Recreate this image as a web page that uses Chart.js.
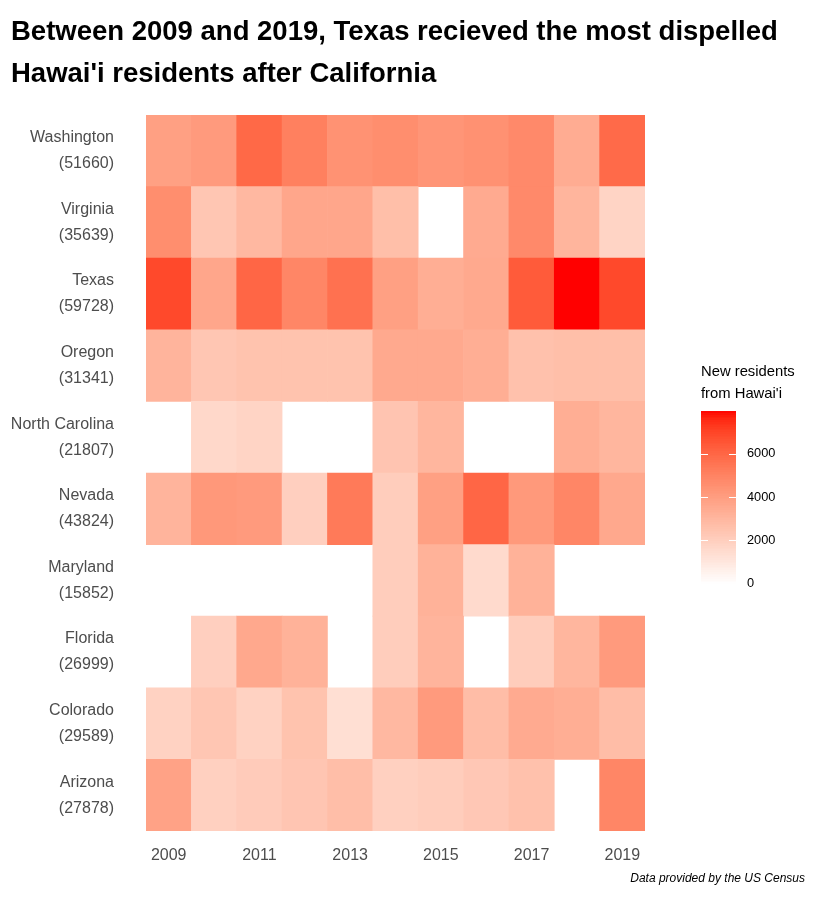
<!DOCTYPE html>
<html>
<head>
<meta charset="utf-8">
<script src="https://cdn.jsdelivr.net/npm/chart.js@4"></script>
<style>
  html, body { margin: 0; padding: 0; background: #ffffff; }
  #wrap { position: relative; width: 816px; height: 897px; }
</style>
</head>
<body>
<div id="wrap"><canvas id="c"></canvas></div>
<script>
// ---------------- DATA ----------------
const years = [2009, 2010, 2011, 2012, 2013, 2014, 2015, 2016, 2017, 2018, 2019];
// bottom to top
const states = ['Arizona', 'Colorado', 'Florida', 'Maryland', 'Nevada',
                'North Carolina', 'Oregon', 'Texas', 'Virginia', 'Washington'];
const totals = [27878, 29589, 26999, 15852, 43824, 21807, 31341, 59728, 35639, 51660];

const arizona       = [3840, 1960, 2160, 2400, 2720, 1960, 2080, 2320, 2600, null, 4910];
const colorado      = [1880, 2360, 1880, 2520, 1360, 2960, 4150, 2760, 3520, 3360, 2760];
const florida       = [null, 2000, 3600, 3200, null, 2080, 3120, null, 2080, 3040, 4150];
const maryland      = [null, null, null, null, null, 2080, 3200, 1560, 3200, null, null];
const nevada        = [3120, 4230, 4150, 2000, 5350, 2080, 3920, 6030, 4200, 4910, 3600];
const northCarolina = [null, 1640, 1800, null, null, 2440, 3040, null, null, 3360, 3040];
const oregon        = [3120, 2360, 2520, 2520, 2520, 3560, 3560, 3360, 2600, 2680, 2680];
const texas         = [6910, 3680, 6030, 4910, 5670, 3920, 3360, 3560, 6390, 7990, 6910];
const virginia      = [4630, 2360, 2960, 3680, 3680, 2680, null, 3520, 4790, 3080, 1800];
const washington    = [3920, 4150, 5950, 5150, 4470, 4630, 4350, 4510, 4790, 3440, 5910];

const stateValues = [arizona, colorado, florida, maryland, nevada,
                     northCarolina, oregon, texas, virginia, washington];

const scaleMin = 0;
const scaleMax = 7990;
const legendTicks = [0, 2000, 4000, 6000];

const titleLines = ["Between 2009 and 2019, Texas recieved the most dispelled",
                    "Hawai'i residents after California"];
const legendTitle = ["New residents", "from Hawai'i"];
const caption = "Data provided by the US Census";

// ---------------- COLOUR (Lab interpolation white -> red) ----------------
function srgbToLin(c) { c /= 255; return c <= 0.04045 ? c / 12.92 : Math.pow((c + 0.055) / 1.055, 2.4); }
function linToSrgb(c) { c = c <= 0.0031308 ? 12.92 * c : 1.055 * Math.pow(c, 1 / 2.4) - 0.055; return Math.round(Math.max(0, Math.min(1, c)) * 255); }
function rgbToLab(r, g, b) {
  const R = srgbToLin(r), G = srgbToLin(g), B = srgbToLin(b);
  let X = (0.4124 * R + 0.3576 * G + 0.1805 * B) / 0.95047;
  let Y = (0.2126 * R + 0.7152 * G + 0.0722 * B);
  let Z = (0.0193 * R + 0.1192 * G + 0.9505 * B) / 1.08883;
  const f = t => t > 0.008856 ? Math.cbrt(t) : 7.787 * t + 16 / 116;
  const fx = f(X), fy = f(Y), fz = f(Z);
  return [116 * fy - 16, 500 * (fx - fy), 200 * (fy - fz)];
}
function labToRgb(L, a, b) {
  const fy = (L + 16) / 116, fx = fy + a / 500, fz = fy - b / 200;
  const inv = t => t * t * t > 0.008856 ? t * t * t : (t - 16 / 116) / 7.787;
  const X = inv(fx) * 0.95047, Y = inv(fy), Z = inv(fz) * 1.08883;
  const R = 3.2406 * X - 1.5372 * Y - 0.4986 * Z;
  const G = -0.9689 * X + 1.8758 * Y + 0.0415 * Z;
  const B = 0.0557 * X - 0.2040 * Y + 1.0570 * Z;
  return [linToSrgb(R), linToSrgb(G), linToSrgb(B)];
}
const labLow = rgbToLab(255, 255, 255);
const labHigh = rgbToLab(255, 0, 0);
function fillColor(v) {
  let t = (v - scaleMin) / (scaleMax - scaleMin);
  t = Math.max(0, Math.min(1, t));
  const L = labLow[0] + (labHigh[0] - labLow[0]) * t;
  const A = labLow[1] + (labHigh[1] - labLow[1]) * t;
  const B = labLow[2] + (labHigh[2] - labLow[2]) * t;
  const c = labToRgb(L, A, B);
  return `rgb(${c[0]},${c[1]},${c[2]})`;
}

// ---------------- CHART ----------------
const FONT = '"Liberation Sans", Arial, Helvetica, sans-serif';
const AXIS_COL = '#4D4D4D';

const datasets = states.map((s, i) => ({
  label: s,
  data: stateValues[i].map(v => v == null ? null : [i - 0.5, i + 0.5]),
  backgroundColor: stateValues[i].map(v => v == null ? 'rgba(0,0,0,0)' : fillColor(v)),
  borderWidth: 0,
  grouped: false,
  barPercentage: 1,
  categoryPercentage: 1
}));

const decorPlugin = {
  id: 'decor',
  afterDraw(chart) {
    const ctx = chart.ctx;
    ctx.save();
    // title
    ctx.fillStyle = '#000000';
    ctx.font = `bold 27.5px ${FONT}`;
    ctx.textAlign = 'left';
    ctx.textBaseline = 'alphabetic';
    ctx.fillText(titleLines[0], 11, 39.5);
    ctx.fillText(titleLines[1], 11, 82);

    // caption
    ctx.font = `italic 12px ${FONT}`;
    ctx.textAlign = 'right';
    ctx.fillText(caption, 805, 882);

    // legend title
    ctx.font = `14.8px ${FONT}`;
    ctx.textAlign = 'left';
    ctx.fillText(legendTitle[0], 701, 376);
    ctx.fillText(legendTitle[1], 701, 398);

    // colour bar
    const bx = 701, bw = 35, btop = 411, bbot = 583.5;
    const steps = 100;
    for (let k = 0; k < steps; k++) {
      const v0 = scaleMin + (scaleMax - scaleMin) * k / steps;
      const y1 = bbot - (bbot - btop) * k / steps;
      const y0 = bbot - (bbot - btop) * (k + 1) / steps;
      ctx.fillStyle = fillColor(v0 + (scaleMax - scaleMin) / steps / 2);
      ctx.fillRect(bx, Math.floor(y0), bw, Math.ceil(y1) - Math.floor(y0));
    }
    ctx.strokeStyle = '#ffffff';
    ctx.lineWidth = 1;
    ctx.fillStyle = '#000000';
    ctx.font = `12.8px ${FONT}`;
    ctx.textBaseline = 'middle';
    legendTicks.forEach(t => {
      const y = bbot - (bbot - btop) * (t - scaleMin) / (scaleMax - scaleMin);
      if (t > scaleMin) {
        ctx.beginPath();
        ctx.moveTo(bx, Math.round(y) + 0.5); ctx.lineTo(bx + 7, Math.round(y) + 0.5);
        ctx.moveTo(bx + bw - 7, Math.round(y) + 0.5); ctx.lineTo(bx + bw, Math.round(y) + 0.5);
        ctx.stroke();
      }
      ctx.fillText(String(t), 747, y);
    });
    ctx.restore();
  }
};

new Chart(document.getElementById('c'), {
  type: 'bar',
  data: { labels: years.map(String), datasets },
  options: {
    responsive: true,
    maintainAspectRatio: false,
    animation: false,
    layout: { padding: { left: 0, right: 171, top: 115, bottom: 0 } },
    plugins: {
      legend: { display: false },
      tooltip: { enabled: false },
      title: { display: false }
    },
    scales: {
      x: {
        type: 'category',
        grid: { display: false, drawTicks: false },
        border: { display: false },
        ticks: {
          autoSkip: false,
          maxRotation: 0,
          padding: 15,
          color: AXIS_COL,
          font: { family: FONT, size: 16 },
          callback: function (val, i) { return i % 2 === 0 ? this.getLabelForValue(val) : ''; }
        },
        afterFit: s => { s.height = 66; }
      },
      y: {
        type: 'linear',
        min: -0.5,
        max: states.length - 0.5,
        grid: { display: false, drawTicks: false },
        border: { display: false },
        afterBuildTicks: axis => { axis.ticks = states.map((s, i) => ({ value: i })); },
        ticks: {
          padding: 32,
          color: AXIS_COL,
          font: { family: FONT, size: 16, lineHeight: '26px' },
          callback: v => [states[v], '(' + totals[v] + ')']
        },
        afterFit: s => { s.width = 146; }
      }
    }
  },
  plugins: [decorPlugin]
});
</script>
</body>
</html>
